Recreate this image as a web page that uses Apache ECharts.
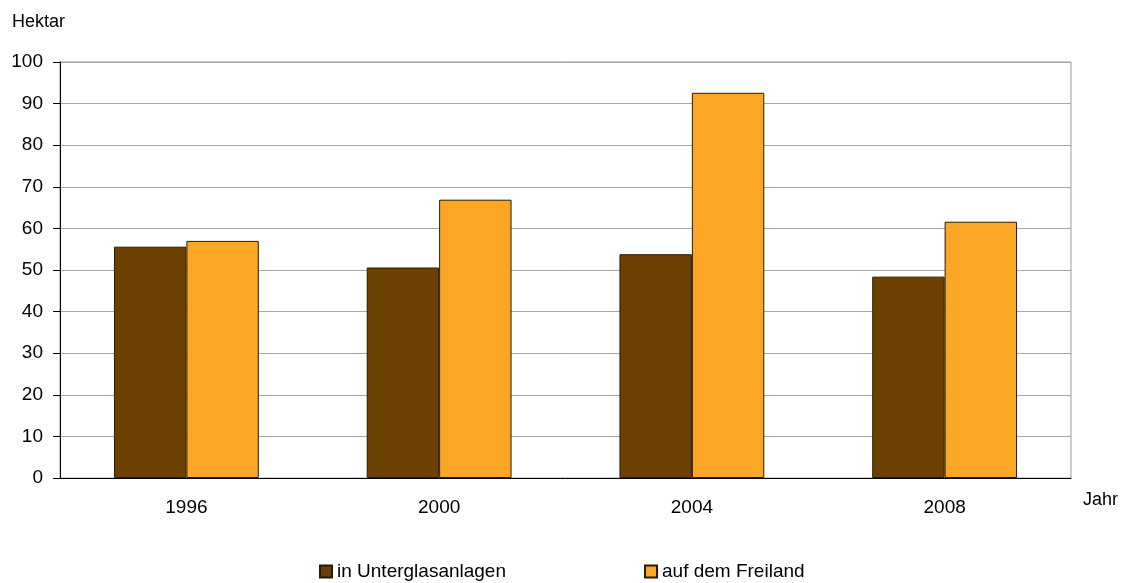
<!DOCTYPE html>
<html>
<head>
<meta charset="utf-8">
<script src="https://cdn.jsdelivr.net/npm/echarts@6/dist/echarts.min.js"></script>
<style>
  html, body { margin: 0; padding: 0; background: #fff; }
  #chart { width: 1124px; height: 583px; }
</style>
</head>
<body>
<div id="chart"></div>
<script>
// Daten
var jahre = ['1996', '2000', '2004', '2008'];
var unterglas = [55.6, 50.6, 53.8, 48.4];
var freiland = [57.0, 66.9, 92.6, 61.6];
var serienNamen = ['in Unterglasanlagen', 'auf dem Freiland'];

var chart = echarts.init(document.getElementById('chart'));
var font = 'Liberation Sans, Arial, sans-serif';

var option = {
    animation: false,
    textStyle: { fontFamily: font },
    title: [
        {
            text: 'Hektar',
            left: 7,
            top: 8,
            textStyle: { fontSize: 18, fontWeight: 'normal', color: '#000', fontFamily: font }
        },
        {
            // Achsenname unten rechts
            text: 'Jahr',
            left: 1078,
            top: 486,
            textStyle: { fontSize: 18, fontWeight: 'normal', color: '#000', fontFamily: font }
        }
    ],
    legend: {
        data: serienNamen,
        left: 314,
        top: 557,
        itemWidth: 12,
        itemHeight: 12,
        itemGap: 138,
        icon: 'rect',
        textStyle: { fontSize: 19, color: '#000', fontFamily: font }
    },
    grid: {
        left: 60,
        top: 62,
        right: 53,
        bottom: 105,
        show: true,
        borderColor: '#999',
        borderWidth: 1
    },
    xAxis: {
        type: 'category',
        data: jahre,
        axisLine: { lineStyle: { color: '#000', width: 1 } },
        axisTick: { length: 6, lineStyle: { color: '#000' } },
        axisLabel: { fontSize: 19, color: '#000', margin: 20 }
    },
    yAxis: {
        type: 'value',
        min: 0,
        max: 100,
        interval: 10,
        axisLine: { show: true, lineStyle: { color: '#000', width: 1 } },
        axisTick: { show: true, length: 7, lineStyle: { color: '#000' } },
        axisLabel: { fontSize: 19, color: '#000', margin: 17 },
        splitLine: { lineStyle: { color: '#a6a6a6', width: 1 } }
    },
    series: [
        {
            name: serienNamen[0],
            type: 'bar',
            data: unterglas,
            barGap: '0%',
            barCategoryGap: '42.7%',
            itemStyle: { color: '#6b4000', borderColor: '#2a1a05', borderWidth: 1 }
        },
        {
            name: serienNamen[1],
            type: 'bar',
            data: freiland,
            itemStyle: { color: '#fca625', borderColor: '#2a1a05', borderWidth: 1 }
        }
    ]
};

chart.setOption(option);
</script>
</body>
</html>
